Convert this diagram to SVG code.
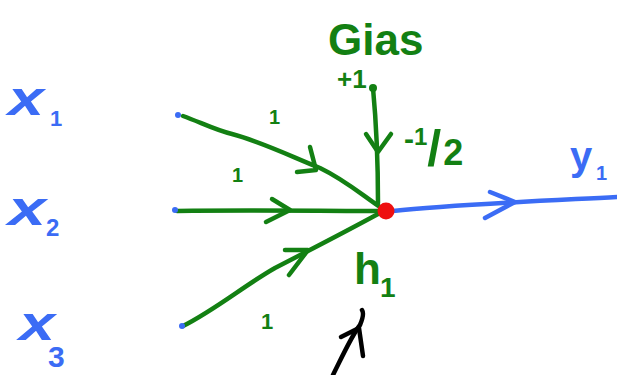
<svg xmlns="http://www.w3.org/2000/svg" width="617" height="375" viewBox="0 0 617 375">
<style>
.g{stroke:#138013;stroke-width:4.5;fill:none;stroke-linecap:round;stroke-linejoin:round}
.b{stroke:#3b6cf5;stroke-width:4.5;fill:none;stroke-linecap:round;stroke-linejoin:round}
.k{stroke:#000;stroke-width:4.5;fill:none;stroke-linecap:round;stroke-linejoin:round}
.tb{fill:#3b6cf5;font-family:"Liberation Sans",Arial,sans-serif;font-weight:bold}
.tg{fill:#138013;font-family:"Liberation Sans",Arial,sans-serif;font-weight:bold}
</style>
<rect width="617" height="375" fill="#fff"/>
<g id="connectors">
<path class="g" d="M183,116 C200,122 215,130 232,134 C262,142 290,156 320,168 C345,180 362,195 380,207"/>
<path class="g" d="M310,147 L316,170 L297,172"/>
<path class="g" d="M177,211 C250,210 320,211 378,211"/>
<path class="g" d="M272,199 L290,210 L266,222"/>
<path class="g" d="M183,326 C215,310 245,285 275,268 C310,250 345,232 378,214"/>
<path class="g" d="M285,250 L308,250 L289,275"/>
<path class="g" d="M373,88 C376,120 378,160 378,203"/>
<path class="g" d="M366,134 L378,152 L391,134"/>
<path class="b" d="M393,211 C450,205 520,202 617,197"/>
<path class="b" d="M490,192 L515,202 L485,218"/>
<path class="k" d="M333,375 C343,355 352,335 360,325 C363,318 364,313 362,310"/>
<path class="k" d="M341,337 L359,328 L363,356"/>
</g>
<g id="x1">
<text class="tb" x="8" y="115" font-size="48" font-style="italic" textLength="36" lengthAdjust="spacingAndGlyphs">x</text>
<text class="tb" x="50" y="126" font-size="22">1</text>
<circle cx="178" cy="115" r="3" fill="#3b6cf5"/>
</g>
<g id="x2">
<text class="tb" x="8" y="225" font-size="48" font-style="italic" textLength="38" lengthAdjust="spacingAndGlyphs">x</text>
<text class="tb" x="46" y="236" font-size="24">2</text>
<circle cx="175" cy="210" r="3" fill="#3b6cf5"/>
</g>
<g id="x3">
<text class="tb" x="19" y="340" font-size="48" font-style="italic" textLength="36" lengthAdjust="spacingAndGlyphs">x</text>
<text class="tb" x="48" y="367" font-size="30">3</text>
<circle cx="182" cy="326" r="3" fill="#3b6cf5"/>
</g>
<g id="bias">
<text class="tg" x="328" y="55" font-size="44">Gias</text>
<text class="tg" x="337" y="88" font-size="26">+1</text>
<circle cx="373" cy="88" r="4" fill="#138013"/>
</g>
<g id="weights">
<text class="tg" x="269" y="124" font-size="20">1</text>
<text class="tg" x="232" y="182" font-size="20">1</text>
<text class="tg" x="261" y="329" font-size="22">1</text>
<text class="tg" x="404" y="165" font-size="36"><tspan font-size="30" dy="-16">-</tspan><tspan font-size="24" dy="-4">1</tspan><tspan font-size="50" dy="20">/</tspan><tspan dx="2">2</tspan></text>
</g>
<g id="h1">
<circle cx="386" cy="211" r="8.5" fill="#ee0f0f"/>
<text class="tg" x="354" y="284" font-size="44">h</text>
<text class="tg" x="380" y="297" font-size="28">1</text>
</g>
<g id="y1">
<text class="tb" x="570" y="170" font-size="40">y</text>
<text class="tb" x="596" y="180" font-size="20">1</text>
</g>
</svg>
